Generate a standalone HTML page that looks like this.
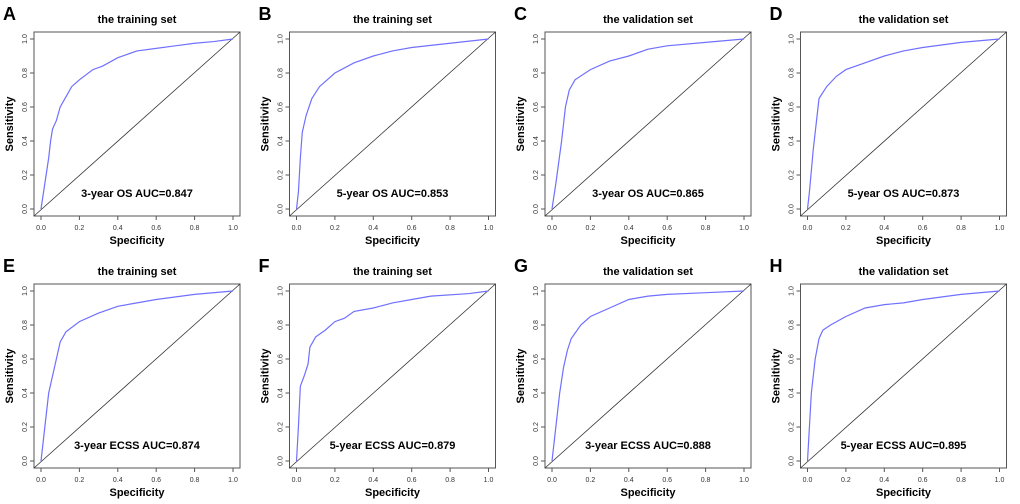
<!DOCTYPE html>
<html><head><meta charset="utf-8"><style>
html,body{margin:0;padding:0;background:#fff;}
svg{display:block;font-family:"Liberation Sans",Arial,sans-serif;}
</style></head><body>
<svg id="chart" width="1020" height="504"></svg>
<script>
const panelLetters = ["A","B","C","D","E","F","G","H"];
const panelTitles = ["the training set","the training set","the validation set","the validation set","the training set","the training set","the validation set","the validation set"];
const aucLabels = ["3-year OS AUC=0.847","5-year OS AUC=0.853","3-year OS AUC=0.865","5-year OS AUC=0.873","3-year ECSS AUC=0.874","5-year ECSS AUC=0.879","3-year ECSS AUC=0.888","5-year ECSS AUC=0.895"];
const tickLabels = ["0.0","0.2","0.4","0.6","0.8","1.0"];
const tickValues = [0,0.2,0.4,0.6,0.8,1];
const specA = [0,0.02,0.04,0.05,0.06,0.08,0.1,0.13,0.16,0.2,0.27,0.32,0.4,0.5,0.6,0.7,0.8,0.9,1];
const sensA = [0,0.15,0.3,0.4,0.47,0.52,0.6,0.66,0.72,0.76,0.82,0.84,0.89,0.93,0.945,0.96,0.975,0.985,1];
const specB = [0,0.01,0.02,0.03,0.05,0.08,0.12,0.2,0.3,0.4,0.5,0.6,0.8,1];
const sensB = [0,0.1,0.3,0.45,0.55,0.65,0.72,0.8,0.86,0.9,0.93,0.95,0.975,1];
const specC = [0,0.02,0.05,0.07,0.09,0.12,0.2,0.3,0.4,0.5,0.6,0.8,1];
const sensC = [0,0.15,0.4,0.6,0.7,0.76,0.82,0.87,0.9,0.94,0.96,0.98,1];
const specD = [0,0.01,0.03,0.05,0.06,0.1,0.15,0.2,0.3,0.4,0.5,0.6,0.8,1];
const sensD = [0,0.1,0.35,0.55,0.65,0.72,0.78,0.82,0.86,0.9,0.93,0.95,0.98,1];
const specE = [0,0.02,0.04,0.06,0.08,0.1,0.13,0.2,0.3,0.4,0.5,0.6,0.8,1];
const sensE = [0,0.2,0.4,0.5,0.6,0.7,0.76,0.82,0.87,0.91,0.93,0.95,0.98,1];
const specF = [0,0.01,0.02,0.04,0.06,0.07,0.1,0.15,0.2,0.25,0.3,0.4,0.5,0.6,0.7,0.9,1];
const sensF = [0,0.2,0.44,0.5,0.57,0.67,0.73,0.77,0.82,0.84,0.88,0.9,0.93,0.95,0.97,0.985,1];
const specG = [0,0.02,0.04,0.06,0.08,0.1,0.15,0.2,0.3,0.4,0.5,0.6,0.8,1];
const sensG = [0,0.2,0.4,0.55,0.65,0.72,0.8,0.85,0.9,0.95,0.97,0.98,0.99,1];
const specH = [0,0.01,0.02,0.04,0.06,0.08,0.12,0.2,0.3,0.4,0.5,0.6,0.8,1];
const sensH = [0,0.2,0.4,0.6,0.72,0.77,0.8,0.85,0.9,0.92,0.93,0.95,0.98,1];
const specs = [specA,specB,specC,specD,specE,specF,specG,specH];
const senss = [sensA,sensB,sensC,sensD,sensE,sensF,sensG,sensH];

const NS="http://www.w3.org/2000/svg";
const svg=document.getElementById('chart');
function mk(tag,attrs,parent,text){const e=document.createElementNS(NS,tag);for(const k in attrs)e.setAttribute(k,attrs[k]);if(text!==undefined)e.textContent=text;parent.appendChild(e);return e;}

for(let i=0;i<8;i++){
  const ox=(i%4)*255.5, oy=Math.floor(i/4)*252;
  const g=mk('g',{transform:`translate(${ox},${oy})`},svg);
  
  
  const x0=41,x1=233,y0=209,y1=39;
  const sx=v=>x0+v*(x1-x0), sy=v=>y0-v*(y0-y1);
  const L=mk('text',{x:3,y:20,'font-size':18,'font-weight':'bold',fill:'#000'},g,panelLetters[i]);
  
  
  const t=mk('text',{x:137,y:23,'font-size':11,'font-weight':'bold','text-anchor':'middle'},g,panelTitles[i]);
  
  
  const box=mk('rect',{x:34,y:32,width:206,height:184,fill:'none',stroke:'#555','stroke-width':1},g);
  
  
  const diag=mk('line',{x1:34,y1:216,x2:240,y2:32,stroke:'#333','stroke-width':0.8},g);
  
  
  tickValues.forEach((v,k)=>{
    mk('line',{x1:sx(v),y1:216,x2:sx(v),y2:220,stroke:'#555'},g);
    const xt=mk('text',{x:sx(v),y:230,'font-size':7,'text-anchor':'middle',fill:'#333'},g,tickLabels[k]);
    
    
    mk('line',{x1:30,y1:sy(v),x2:34,y2:sy(v),stroke:'#555'},g);
    const yt=mk('text',{x:0,y:0,'font-size':7,'text-anchor':'middle',fill:'#333',transform:`translate(27,${sy(v)}) rotate(-90)`},g,tickLabels[k]);
    
    
  });
  const xl=mk('text',{x:137,y:244,'font-size':11,'font-weight':'bold','text-anchor':'middle'},g,'Specificity');
  
  
  const yl=mk('text',{x:0,y:0,'font-size':11,'font-weight':'bold','text-anchor':'middle',transform:'translate(13,124) rotate(-90)'},g,'Sensitivity');
  
  
  const pts=specs[i].map((s,k)=>sx(s)+','+sy(senss[i][k])).join(' ');
  const c=mk('polyline',{points:pts,fill:'none',stroke:'#7070ff','stroke-width':1.2},g);
  
  
  const a=mk('text',{x:sx(0.5),y:197,'font-size':11,'font-weight':'bold','text-anchor':'middle'},g,aucLabels[i]);
  
  
}
</script>
</body></html>
